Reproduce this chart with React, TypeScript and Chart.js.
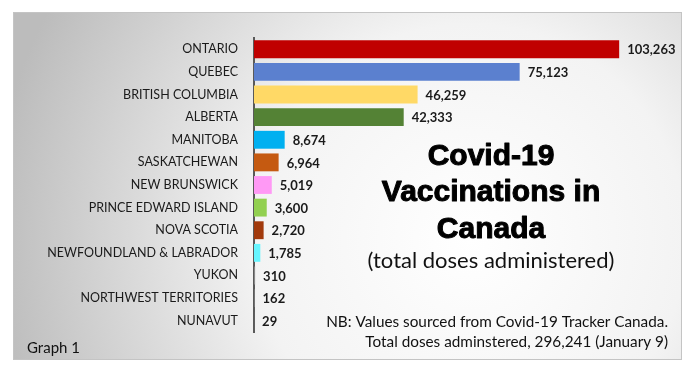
import React, { useEffect, useRef } from "react";
import { Chart, registerables } from "chart.js";

Chart.register(...registerables);

const provinces = [
  "ONTARIO",
  "QUEBEC",
  "BRITISH COLUMBIA",
  "ALBERTA",
  "MANITOBA",
  "SASKATCHEWAN",
  "NEW BRUNSWICK",
  "PRINCE EDWARD ISLAND",
  "NOVA SCOTIA",
  "NEWFOUNDLAND & LABRADOR",
  "YUKON",
  "NORTHWEST TERRITORIES",
  "NUNAVUT",
];

const doses = [103263, 75123, 46259, 42333, 8674, 6964, 5019, 3600, 2720, 1785, 310, 162, 29];

const barColors = [
  "#C00000",
  "#5B80CF",
  "#FFD966",
  "#548235",
  "#00B0F0",
  "#C55A11",
  "#FF99F5",
  "#92D050",
  "#A23A0C",
  "#66F5FF",
  "#888888",
  "#888888",
  "#888888",
];

const titleLines = ["Covid-19", "Vaccinations in", "Canada"];
const subtitle = "(total doses administered)";
const noteLines = [
  "NB: Values sourced from Covid-19 Tracker Canada.",
  "Total doses adminstered, 296,241 (January 9)",
];
const graphLabel = "Graph 1";

const W = 689;
const H = 368;

const decor = {
  id: "decor",
  beforeDraw(chart: any) {
    const ctx = chart.ctx;
    ctx.save();
    ctx.fillStyle = "#ffffff";
    ctx.fillRect(0, 0, W, H);
    const bx = 13, by = 12, bw = 669, bh = 348;
    const g = ctx.createRadialGradient(470, 240, 0, 470, 240, 480);
    g.addColorStop(0, "#ffffff");
    g.addColorStop(0.45, "#f3f3f3");
    g.addColorStop(1, "#bcbcbc");
    ctx.fillStyle = g;
    ctx.fillRect(bx, by, bw, bh);
    ctx.strokeStyle = "#c4c4c4";
    ctx.lineWidth = 1;
    ctx.strokeRect(bx + 0.5, by + 0.5, bw - 1, bh - 1);
    ctx.restore();
  },
  afterDraw(chart: any) {
    const ctx = chart.ctx;
    ctx.save();
    const meta = chart.getDatasetMeta(0);
    ctx.font = "bold 13px Lato";
    ctx.fillStyle = "#1a1a1a";
    ctx.textAlign = "left";
    ctx.textBaseline = "middle";
    meta.data.forEach((bar: any, i: number) => {
      ctx.fillText(doses[i].toLocaleString("en-US"), bar.x + 8, bar.y + 1);
    });
    ctx.textAlign = "center";
    ctx.textBaseline = "alphabetic";
    ctx.fillStyle = "#000000";
    ctx.strokeStyle = "#000000";
    ctx.lineWidth = 1;
    ctx.lineJoin = "round";
    ctx.font = "bold 30px 'Liberation Sans'";
    const tb = [165, 201, 238];
    titleLines.forEach((t, i) => {
      ctx.fillText(t, 491, tb[i]);
      ctx.strokeText(t, 491, tb[i]);
    });
    ctx.font = "22px Lato";
    ctx.fillStyle = "#111111";
    ctx.fillText(subtitle, 491, 268);
    ctx.textAlign = "right";
    ctx.font = "15.3px Lato";
    ctx.fillStyle = "#111111";
    ctx.fillText(noteLines[0], 668, 327);
    ctx.fillText(noteLines[1], 668, 347);
    ctx.textAlign = "left";
    ctx.font = "15px Lato";
    ctx.fillText(graphLabel, 27, 353);
    ctx.restore();
  },
};

export default function App() {
  const ref = useRef<HTMLCanvasElement | null>(null);
  useEffect(() => {
    if (!ref.current) return;
    const chart = new Chart(ref.current, {
      type: "bar",
      data: {
        labels: provinces,
        datasets: [
          {
            data: doses,
            backgroundColor: barColors,
            borderWidth: 0,
            barPercentage: 0.79,
            categoryPercentage: 1,
          },
        ],
      },
      options: {
        indexAxis: "y",
        responsive: false,
        animation: false,
        devicePixelRatio: 1,
        layout: { padding: { left: 0, right: 46, top: 38, bottom: 36 } },
        plugins: {
          legend: { display: false },
          tooltip: { enabled: false },
        },
        scales: {
          x: {
            display: false,
            min: 0,
            max: 110000,
          },
          y: {
            afterFit(scale: any) {
              scale.width = 254;
            },
            grid: { display: false },
            border: { display: true, color: "#595959", width: 2 },
            ticks: {
              padding: 8,
              color: "#1a1a1a",
              font: { family: "Lato", size: 12.5 },
            },
          },
        },
      },
      plugins: [decor],
    });
    return () => chart.destroy();
  }, []);
  return (
    <div style={{ position: "absolute", left: 0, top: 0, width: W, height: H }}>
      <canvas ref={ref} width={W} height={H} />
    </div>
  );
}
